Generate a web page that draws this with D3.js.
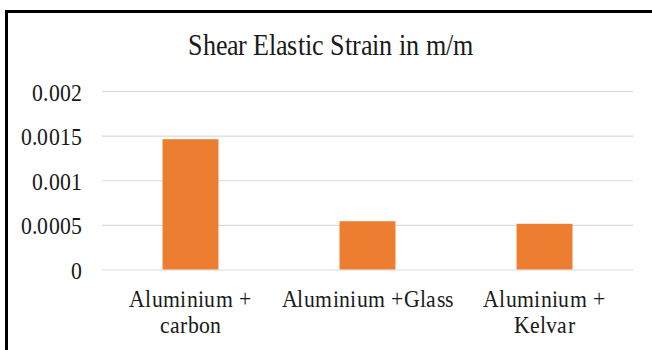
<!DOCTYPE html>
<html>
<head>
<meta charset="utf-8">
<script src="https://cdn.jsdelivr.net/npm/d3@7"></script>
<style>
  @font-face { font-family: "LabelSerif"; src: local("Liberation Serif"), local("LiberationSerif"), local("LiberationSerif-Regular"); }
  svg text { font-family: "LabelSerif", "Liberation Serif", serif !important; }
</style>
</head>
<body style="margin:0;padding:0;background:#fff">
<svg id="strain" width="652" height="350" style="display:block"></svg>
<script>
// Chart data
const title = "Shear Elastic Strain in m/m";
const categories = ["Aluminium + carbon", "Aluminium +Glass", "Aluminium + Kelvar"];
const strainValues = [0.00146, 0.000541, 0.000512];
const yTicks = [0, 0.0005, 0.001, 0.0015, 0.002];
const yTickLabels = ["0", "0.0005", "0.001", "0.0015", "0.002"];

const W = 652, H = 350;
const plot = { left: 102, right: 633, top: 91, bottom: 269.5 };
const stretch = 1.15; // serif lettering is drawn slightly tall
const ink = "#1a1a1a";
const face = "LabelSerif, Liberation Serif, serif";

const svg = d3.select("#strain");

function serifText(sel, size) {
  return sel
    .style("font-family", face, "important")
    .style("font-size", size + "px")
    .attr("fill", ink);
}

// Outer frame of the chart area
svg.append("rect")
  .attr("x", 6.5).attr("y", 11.5)
  .attr("width", W + 10).attr("height", H + 10)
  .attr("fill", "#fff")
  .attr("stroke", "#000")
  .attr("stroke-width", 3);

// Title
serifText(svg.append("text"), 26)
  .attr("transform", `translate(331,55) scale(1,${stretch})`)
  .attr("text-anchor", "middle")
  .text(title);

const x = d3.scaleBand()
  .domain(categories)
  .range([plot.left, plot.right])
  .paddingInner(0.684)
  .paddingOuter(0.342);

const y = d3.scaleLinear()
  .domain([0, 0.002])
  .range([plot.bottom, plot.top]);

// Value axis with horizontal gridlines
const yAxis = d3.axisLeft(y)
  .tickValues(yTicks)
  .tickFormat((d, i) => yTickLabels[i])
  .tickSize(-(plot.right - plot.left))
  .tickPadding(20);

const gy = svg.append("g")
  .attr("transform", `translate(${plot.left},0)`)
  .call(yAxis);
gy.attr("font-family", null).attr("font-size", null);
gy.select(".domain").remove();
gy.selectAll(".tick line")
  .attr("stroke", "#d9d9d9")
  .attr("stroke-width", 1.2);
serifText(gy.selectAll(".tick text"), 22)
  .attr("transform", `scale(1,${stretch})`)
  .attr("dy", "0.36em");

// Bars
svg.append("g")
  .selectAll("rect")
  .data(categories)
  .join("rect")
  .attr("x", d => x(d))
  .attr("width", x.bandwidth())
  .attr("y", (d, i) => y(strainValues[i]))
  .attr("height", (d, i) => y(0) - y(strainValues[i]))
  .attr("fill", "#ED7D31");

// Category labels, wrapped to the band step
const step = x.step();
const labelG = svg.append("g");
categories.forEach(cat => {
  const cx = x(cat) + x.bandwidth() / 2;
  const t = serifText(labelG.append("text"), 22)
    .attr("text-anchor", "middle")
    .attr("transform", `translate(${cx},306.5) scale(1,${stretch})`);
  const words = cat.split(" ");
  const lines = [];
  let current = [];
  const probe = t.append("tspan");
  words.forEach(w => {
    probe.text(current.concat([w]).join(" "));
    if (probe.node().getComputedTextLength() > step && current.length) {
      lines.push(current.join(" "));
      current = [w];
    } else {
      current.push(w);
    }
  });
  lines.push(current.join(" "));
  probe.remove();
  lines.forEach((ln, i) => {
    t.append("tspan")
      .attr("x", 0)
      .attr("y", i * 23)
      .text(ln);
  });
});
</script>
</body>
</html>
